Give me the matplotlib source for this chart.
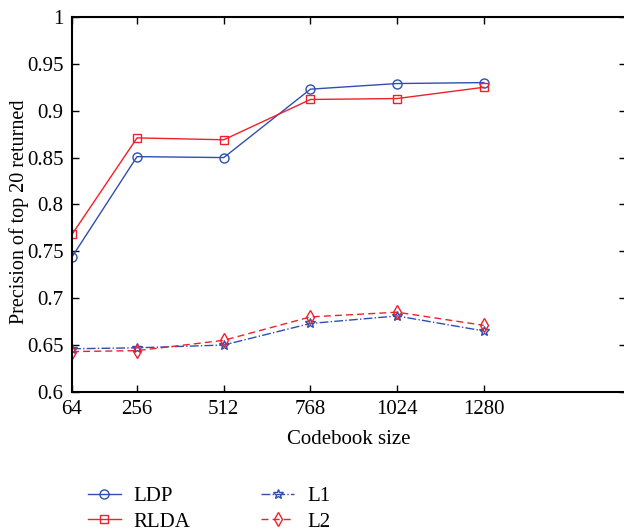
import numpy as np
import matplotlib.pyplot as plt

plt.rcParams['font.family'] = ['Liberation Serif', 'DejaVu Serif']
plt.rcParams['mathtext.fontset'] = 'stix'

codebook = [64, 256, 512, 768, 1024, 1280]
ldp = [0.744, 0.851, 0.850, 0.923, 0.929, 0.930]
rlda = [0.768, 0.871, 0.869, 0.912, 0.913, 0.925]
l1 = [0.646, 0.647, 0.650, 0.673, 0.681, 0.665]
l2 = [0.643, 0.644, 0.655, 0.680, 0.685, 0.671]

blue = '#2f4fb0'
red = '#f0202a'

fig = plt.figure(figsize=(6.24, 5.31), dpi=100)
ax = fig.add_axes([0.1154, 0.262, 0.888, 0.706])

h1, = ax.plot(codebook, ldp, color=blue, lw=1, marker='o', ms=6.5, mfc='none', mew=1, label='LDP')
h2, = ax.plot(codebook, rlda, color=red, lw=1, marker='s', ms=5.5, mfc='none', mew=1, label='RLDA')
h3, = ax.plot(codebook, l1, color=blue, lw=1, ls='-.', marker='*', ms=7, mfc='none', mew=1, label='L1')
h4, = ax.plot(codebook, l2, color=red, lw=1, ls='--', dashes=(5, 3), marker='d', ms=7, mfc='none', mew=1, label='L2')

ax.set_xlim(64, 1700)
ax.set_ylim(0.6, 1.0)
ax.set_xticks(codebook)
ax.set_yticks([0.6, 0.65, 0.7, 0.75, 0.8, 0.85, 0.9, 0.95, 1.0])
ax.set_yticklabels(['0.6', '0.65', '0.7', '0.75', '0.8', '0.85', '0.9', '0.95', '1'])
ax.tick_params(direction='in', top=True, right=True, length=5, width=1, labelsize=15, pad=6)
for s in ax.spines.values():
    s.set_linewidth(1.5)

ax.set_xlabel('Codebook size', fontsize=15, labelpad=8)
ax.set_ylabel('Precision of top 20 returned', fontsize=14.5)
ax.yaxis.set_label_coords(-0.078, 0.48)

fig.legend(handles=[h1, h2, h3, h4], ncol=2, frameon=False, fontsize=15,
           loc='upper left', bbox_to_anchor=(0.127, 0.1), handlelength=1.6,
           columnspacing=3.4, labelspacing=0.3, handletextpad=0.6, borderaxespad=0)

fig.savefig('out.png', dpi=100)
